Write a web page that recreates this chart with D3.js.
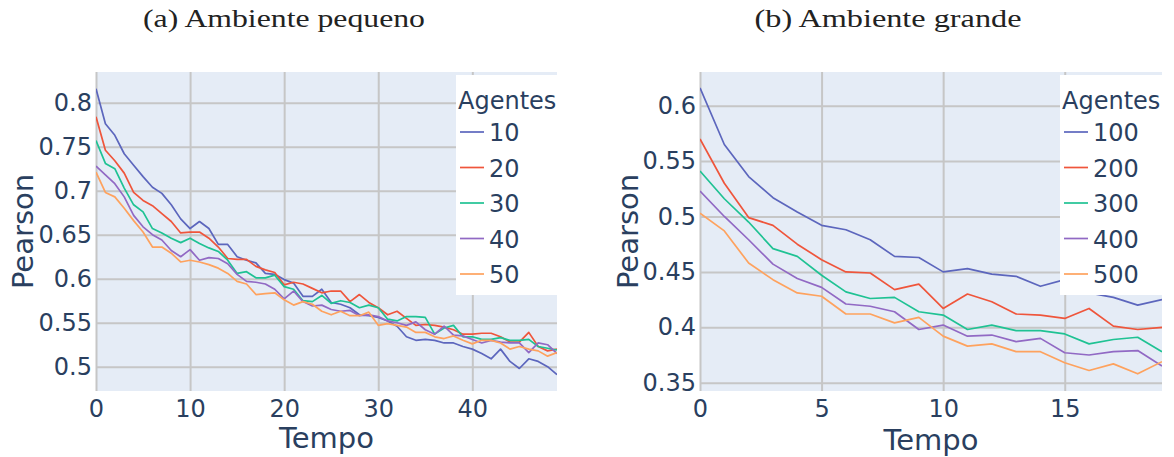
<!DOCTYPE html>
<html>
<head>
<meta charset="utf-8">
<script src="https://cdn.jsdelivr.net/npm/d3@7"></script>
<style>
  body { margin: 0; background: #fff; }
  svg { display: block; }
</style>
</head>
<body>
<svg id="chart" width="1174" height="457"></svg>
<script>
// ---- dados: ambiente pequeno ----
var agentesPeq = ["10", "20", "30", "40", "50"];
var peq10 = [.816,.776,.763,.742,.729,.716,.704,.697,.684,.668,.657,.665,.657,.639,.639,.625,.621,.618,.606,.605,
             .599,.595,.580,.580,.588,.573,.571,.567,.559,.558,.556,.552,.546,.534,.530,.531,.530,.527,.527,.523,
             .520,.515,.509,.520,.506,.498,.509,.506,.500,.491];
var peq20 = [.784,.746,.734,.720,.698,.689,.683,.674,.665,.652,.653,.653,.646,.636,.623,.622,.622,.614,.610,.607,
             .593,.596,.594,.589,.584,.586,.586,.574,.582,.573,.567,.559,.563,.555,.547,.548,.547,.545,.542,.537,
             .537,.538,.538,.534,.528,.528,.539,.523,.518,.520];
var peq30 = [.757,.731,.725,.703,.684,.676,.657,.652,.646,.641,.646,.640,.635,.631,.621,.606,.608,.601,.601,.604,
             .591,.588,.575,.574,.581,.572,.575,.573,.567,.570,.567,.554,.552,.557,.557,.556,.537,.544,.547,.534,
             .534,.531,.531,.533,.530,.530,.531,.523,.521,.519];
var peq40 = [.728,.718,.708,.693,.672,.659,.650,.644,.632,.625,.633,.621,.624,.623,.617,.605,.597,.596,.594,.588,
             .577,.586,.574,.569,.570,.565,.563,.564,.558,.559,.557,.552,.550,.547,.551,.542,.537,.546,.536,.535,
             .531,.527,.530,.528,.527,.527,.516,.527,.525,.515];
var peq50 = [.721,.698,.693,.680,.666,.653,.636,.636,.629,.619,.621,.619,.616,.612,.606,.597,.594,.582,.583,.584,
             .576,.570,.574,.571,.563,.559,.563,.558,.558,.562,.547,.549,.547,.545,.539,.539,.534,.532,.535,.530,
             .526,.530,.530,.527,.520,.523,.520,.518,.512,.516];
var peqXTicks = [0, 10, 20, 30, 40];
var peqYTicks = ["0.5", "0.55", "0.6", "0.65", "0.7", "0.75", "0.8"];

// ---- dados: ambiente grande ----
var agentesGra = ["100", "200", "300", "400", "500"];
var gra100 = [.616,.565,.536,.517,.504,.492,.488,.479,.464,.463,.450,.453,.448,.446,.437,.443,.431,.427,.420,.425];
var gra200 = [.570,.530,.499,.492,.475,.461,.450,.449,.434,.439,.417,.430,.423,.412,.411,.408,.417,.401,.398,.400];
var gra300 = [.541,.516,.495,.471,.464,.447,.432,.426,.427,.414,.411,.398,.402,.397,.397,.394,.385,.389,.391,.378];
var gra400 = [.523,.500,.479,.457,.444,.436,.421,.419,.414,.398,.402,.392,.393,.387,.390,.377,.375,.378,.379,.365];
var gra500 = [.503,.487,.458,.443,.431,.428,.412,.412,.404,.409,.392,.383,.385,.378,.378,.368,.361,.367,.358,.369];
var graXTicks = [0, 5, 10, 15];
var graYTicks = ["0.35", "0.4", "0.45", "0.5", "0.55", "0.6"];

var cores = ["#5c66bd", "#ef553b", "#1fc293", "#9169c4", "#fea25e"];
var corTexto = "#2a3f5f";
var fonteEixo = "'DejaVu Sans', Verdana, sans-serif";

var svg = d3.select("#chart");

var painel = function(cfg){
	var g = svg.append("g");

	var x = d3.scaleLinear().domain(cfg.xDom).range([cfg.left, cfg.right]);
	var y = d3.scaleLinear().domain(cfg.yDom).range([cfg.bottom, cfg.top]);

	// titulo (legenda de subfigura) - fonte do LaTeX é mais larga, estica um pouco
	g.append("text")
		.attr("x", cfg.tituloX)
		.attr("y", 27)
		.attr("text-anchor", "middle")
		.attr("textLength", cfg.tituloW)
		.attr("lengthAdjust", "spacingAndGlyphs")
		.style("font-family", "'Liberation Serif', 'DejaVu Serif', serif")
		.style("font-size", "25px")
		.style("fill", "#222")
		.text(cfg.titulo);

	// fundo
	g.append("rect")
		.attr("x", cfg.left).attr("y", cfg.top)
		.attr("width", cfg.right - cfg.left)
		.attr("height", cfg.bottom - cfg.top)
		.style("fill", "#e5ecf6");

	// grade
	var yTickVals = cfg.yTicks.map(function(t){ return +t; });
	g.append("g")
		.attr("transform", "translate(" + cfg.left + ",0)")
		.call(d3.axisLeft(y).tickValues(yTickVals).tickSize(-(cfg.right - cfg.left)).tickFormat(""))
		.call(function(a){
			a.select(".domain").remove();
			a.selectAll("line").style("stroke", "#c6c6c6").style("stroke-width", 2);
		});
	g.append("g")
		.attr("transform", "translate(0," + cfg.bottom + ")")
		.call(d3.axisBottom(x).tickValues(cfg.xTicks).tickSize(-(cfg.bottom - cfg.top)).tickFormat(""))
		.call(function(a){
			a.select(".domain").remove();
			a.selectAll("line").style("stroke", "#c6c6c6").style("stroke-width", 2);
		});

	// rotulos dos eixos
	g.append("g")
		.attr("transform", "translate(" + cfg.left + ",0)")
		.call(d3.axisLeft(y).tickValues(yTickVals).tickSize(0).tickPadding(4)
			.tickFormat(function(d, i){ return cfg.yTicks[i]; }))
		.call(function(a){
			a.select(".domain").remove();
			a.selectAll("text")
				.style("font-family", fonteEixo)
				.style("font-size", "24px")
				.style("fill", corTexto);
		});
	g.append("g")
		.attr("transform", "translate(0," + cfg.bottom + ")")
		.call(d3.axisBottom(x).tickValues(cfg.xTicks).tickSize(0).tickPadding(cfg.xPad))
		.call(function(a){
			a.select(".domain").remove();
			a.selectAll("text")
				.style("font-family", fonteEixo)
				.style("font-size", "24px")
				.style("fill", corTexto);
		});

	g.append("text")
		.attr("x", (cfg.left + cfg.right) / 2)
		.attr("y", cfg.tempoY)
		.attr("text-anchor", "middle")
		.style("font-family", fonteEixo)
		.style("font-size", "29px")
		.style("fill", corTexto)
		.text("Tempo");

	g.append("text")
		.attr("transform", "translate(" + cfg.pearsonX + "," + ((cfg.top + cfg.bottom) / 2) + ") rotate(-90)")
		.attr("text-anchor", "middle")
		.style("font-family", fonteEixo)
		.style("font-size", "29px")
		.style("fill", corTexto)
		.text("Pearson");

	// linhas
	var clipId = "clip" + cfg.id;
	g.append("clipPath").attr("id", clipId)
		.append("rect")
		.attr("x", cfg.left).attr("y", cfg.top)
		.attr("width", cfg.right - cfg.left)
		.attr("height", cfg.bottom - cfg.top);

	var linha = d3.line()
		.x(function(d, i){ return x(i); })
		.y(function(d){ return y(d); });

	g.append("g")
		.attr("clip-path", "url(#" + clipId + ")")
		.selectAll("path")
		.data(cfg.series)
		.enter()
		.append("path")
		.attr("d", linha)
		.style("fill", "none")
		.style("stroke", function(d, i){ return cores[i]; })
		.style("stroke-width", 1.7)
		.style("stroke-linejoin", "round");

	// legenda
	var leg = g.append("g");
	leg.append("rect")
		.attr("x", cfg.legX).attr("y", 75)
		.attr("width", cfg.legW).attr("height", 220)
		.style("fill", "#fff");
	leg.append("text")
		.attr("x", cfg.legX + 2).attr("y", 109)
		.style("font-family", fonteEixo)
		.style("font-size", "24px")
		.style("fill", corTexto)
		.text("Agentes");
	cfg.nomes.forEach(function(nome, i){
		var yy = 141 + i * 35.5;
		leg.append("line")
			.attr("x1", cfg.legX + 4).attr("x2", cfg.legX + 28)
			.attr("y1", yy - 9).attr("y2", yy - 9)
			.style("stroke", cores[i])
			.style("stroke-width", 1.7);
		leg.append("text")
			.attr("x", cfg.legX + 33).attr("y", yy)
			.style("font-family", fonteEixo)
			.style("font-size", "24px")
			.style("fill", corTexto)
			.text(nome);
	});
};

painel({
	id: "a", titulo: "(a) Ambiente pequeno", tituloX: 284, tituloW: 282,
	left: 96, right: 557, top: 72, bottom: 391,
	xDom: [0, 49], yDom: [0.4724, 0.8349],
	xTicks: peqXTicks, yTicks: peqYTicks, xPad: 9,
	tempoY: 448, pearsonX: 33,
	legX: 456, legW: 102,
	nomes: agentesPeq,
	series: [peq10, peq20, peq30, peq40, peq50]
});

painel({
	id: "b", titulo: "(b) Ambiente grande", tituloX: 888, tituloW: 267,
	left: 700, right: 1162, top: 72, bottom: 391,
	xDom: [0, 19], yDom: [0.3425, 0.6304],
	xTicks: graXTicks, yTicks: graYTicks, xPad: 9,
	tempoY: 450, pearsonX: 638,
	legX: 1060, legW: 114,
	nomes: agentesGra,
	series: [gra100, gra200, gra300, gra400, gra500]
});
</script>
</body>
</html>
